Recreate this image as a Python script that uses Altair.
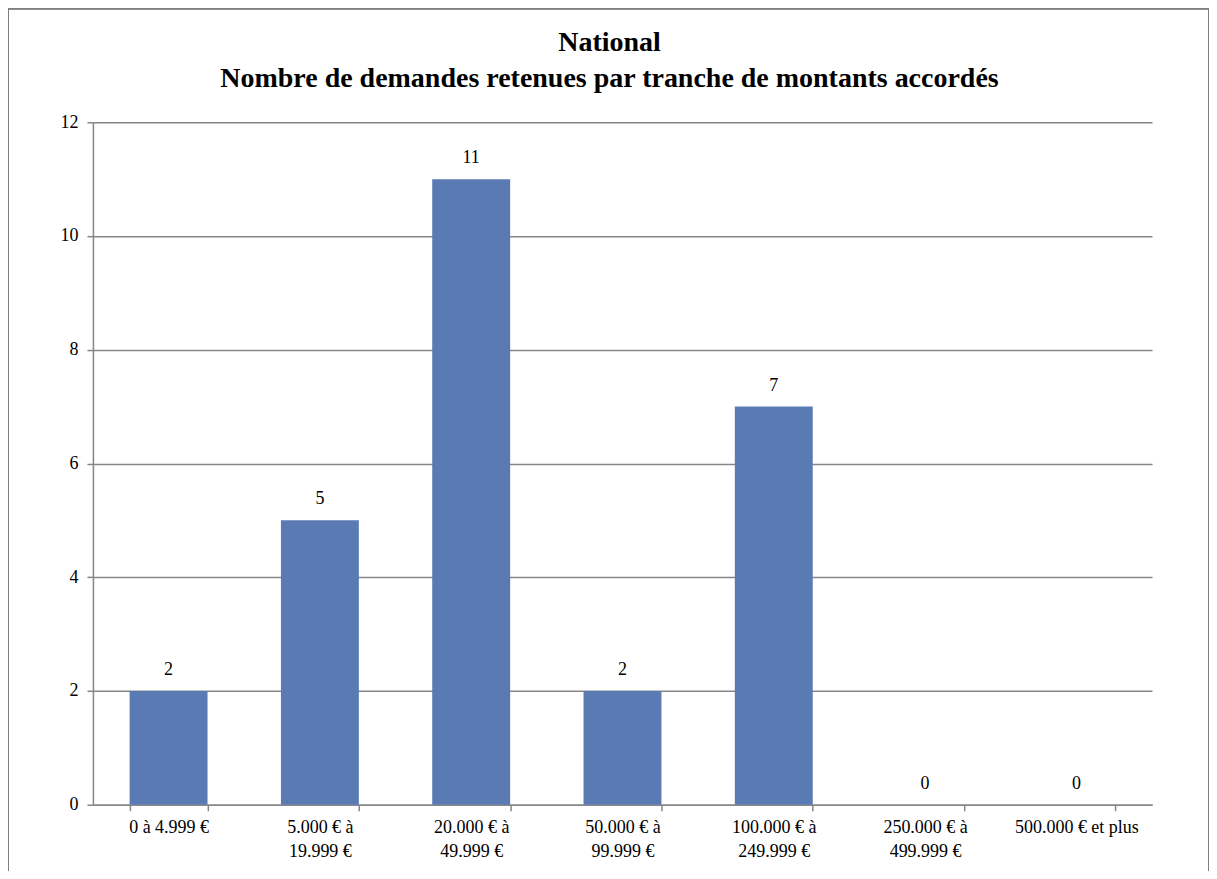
import altair as alt
import pandas as pd

categories = [
    "0 à 4.999 €",
    "5.000 € à\n19.999 €",
    "20.000 € à\n49.999 €",
    "50.000 € à\n99.999 €",
    "100.000 € à\n249.999 €",
    "250.000 € à\n499.999 €",
    "500.000 € et plus",
]
values = [2, 5, 11, 2, 7, 0, 0]
title_lines = ["National", "Nombre de demandes retenues par tranche de montants accordés"]

df = pd.DataFrame({"cat": categories, "n": values})
tdf = pd.DataFrame({"t": title_lines, "i": [0, 1]})

FONT = "Liberation Serif, Times New Roman, serif"
W, H = 1060, 683
GRID = "#868686"

x = alt.X("cat:N", sort=categories, title=None,
          scale=alt.Scale(paddingInner=0.485, paddingOuter=0.2425),
          axis=alt.Axis(labelAngle=0, labelExpr="split(datum.label, '\\n')",
                        tickBand="extent", grid=False, labelFont=FONT, labelFontSize=18,
                        labelColor="black", labelLineHeight=24, labelPadding=8,
                        tickSize=6, tickColor=GRID, domainColor=GRID,
                        domainWidth=1.5, tickWidth=1.5))
y = alt.Y("n:Q", title=None,
          scale=alt.Scale(domain=[0, 12], nice=False),
          axis=alt.Axis(values=[0, 2, 4, 6, 8, 10, 12], format="d", grid=True,
                        gridColor=GRID, gridWidth=1.5, labelFont=FONT, labelFontSize=18,
                        labelColor="black", labelPadding=9, tickSize=6,
                        tickColor=GRID, domainColor=GRID, domainWidth=1.5,
                        tickWidth=1.5))

bars = alt.Chart(df).mark_bar(color="#5a7ab3").encode(x=x, y=y)
labels = alt.Chart(df).mark_text(font=FONT, fontSize=18, color="black",
                                 baseline="alphabetic", dy=-16).encode(
    x=alt.X("cat:N", sort=categories), y="n:Q", text="n:Q")
frame = alt.Chart(df).mark_rect(fill=None, stroke="#7f7f7f", strokeWidth=2,
                                clip=False).encode(
    x=alt.value(-85), x2=alt.value(W + 57),
    y=alt.value(-114), y2=alt.value(H + 90))


def title_line(i, ypos):
    return alt.Chart(tdf).transform_filter(alt.datum.i == i).mark_text(
        font=FONT, fontSize=28, fontWeight="bold", color="black",
        baseline="alphabetic", align="center").encode(
        x=alt.value(517), y=alt.value(ypos), text="t:N")


chart = alt.layer(frame, bars, labels, title_line(0, -71), title_line(1, -35)).properties(
    width=W, height=H,
    autosize=alt.AutoSizeParams(type="none"),
    padding={"left": 85, "top": 114, "right": 57, "bottom": 66},
).configure_view(stroke=None)

chart.save("out.html", embed_options={"renderer": "svg", "actions": False})
